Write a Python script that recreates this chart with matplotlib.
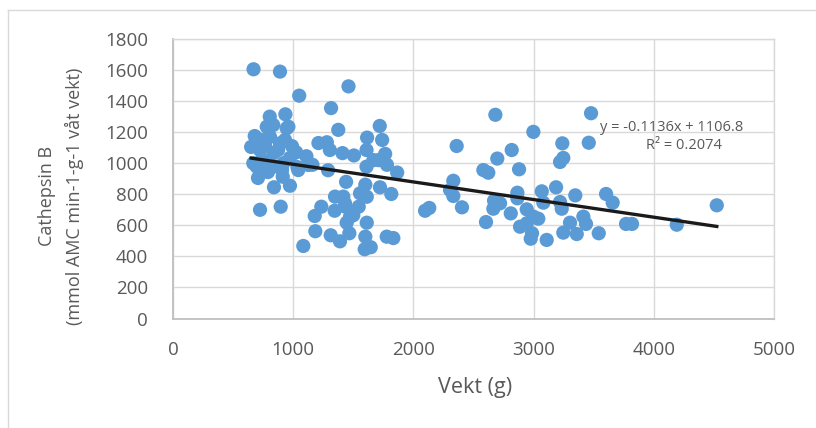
import matplotlib
matplotlib.use("Agg")
import matplotlib.pyplot as plt
from matplotlib.lines import Line2D
import numpy as np

plt.rcParams['font.family'] = ['Open Sans', 'DejaVu Sans']

# Data: weight (g) and Cathepsin B activity
vekt = [670, 890, 1050, 1460, 1315, 805, 935, 805, 960, 1375, 1720, 1615, 1740,
        680, 650, 1210, 1280, 1305, 1025, 1110, 1160, 1035, 1290, 1410, 1505,
        1610, 1765, 1710, 1780, 1610, 1865, 668, 707, 840, 973, 913, 1440, 1600,
        1722, 1816, 724, 896, 1348, 1417, 1556, 1612, 1234, 1179, 1345, 1434,
        1500, 1545, 1445, 1612, 1184, 1312, 1389, 1467, 1600, 1595, 1645, 1778,
        1833, 1084, 780, 946, 807, 890, 724, 834, 696, 834, 918, 740, 1667,
        1473, 1431, 765, 874, 973, 790, 907, 990, 740, 932, 1042, 1126, 834,
        2682, 3478, 2998, 2360, 3239, 3459, 2818, 2698, 3247, 3220, 2582, 2623,
        2879, 2332, 2305, 2332, 2132, 2097, 2404, 2865, 2865, 3068, 3187, 3347,
        3603, 3658, 2671, 2721, 2665, 3081, 3220, 3234, 2810, 2943, 2998, 3039,
        2887, 2943, 2604, 2987, 2976, 3109, 3247, 3303, 3359, 3414, 3436, 3542,
        3769, 3819, 4191, 4524]
cathepsin = [1605, 1590, 1435, 1495, 1355, 1300, 1315, 1235, 1235, 1215, 1240, 1165, 1150,
             1175, 1105, 1130, 1135, 1085, 1070, 1045, 990, 975, 955, 1065, 1050,
             1085, 1060, 1020, 990, 978, 940, 1000, 905, 845, 855, 913, 880, 862,
             845, 802, 700, 720, 785, 785, 806, 784, 720, 660, 694, 720,
             665, 720, 617, 617, 562, 536, 497, 549, 527, 446, 459, 527,
             518, 467, 1235, 1225, 1170, 1128, 1085, 1064, 978, 978, 1000, 1150, 1020,
             656, 742, 1117, 1085, 1034, 943, 956, 1110, 1021, 1150, 956, 989, 1246,
             1312, 1322, 1202, 1111, 1128, 1132, 1085, 1030, 1034, 1008, 956, 939,
             961, 887, 828, 789, 712, 694, 716, 810, 774, 819, 845, 793,
             802, 746, 759, 742, 707, 746, 750, 707, 677, 703, 656, 643,
             591, 613, 621, 549, 514, 506, 553, 617, 544, 656, 609, 549,
             609, 609, 604, 729]

slope = -0.1136
intercept = 1106.8
eq_text = "y = -0.1136x + 1106.8"
r2_text = "R² = 0.2074"
x_ticks = [0, 1000, 2000, 3000, 4000, 5000]
y_ticks = [0, 200, 400, 600, 800, 1000, 1200, 1400, 1600, 1800]

W, H = 816, 428
fig = plt.figure(figsize=(W / 100, H / 100), dpi=100)
fig.patch.set_facecolor('white')

# chart border (visible part)
fig.add_artist(Line2D([8 / W, 1.0], [1 - 10 / H, 1 - 10 / H], color='#D9D9D9', lw=1.0))
fig.add_artist(Line2D([8 / W, 8 / W], [0, 1 - 10 / H], color='#D9D9D9', lw=1.0))

ax = fig.add_axes([173 / W, 1 - 318.5 / H, (774 - 173) / W, (318.5 - 39) / H])
ax.set_xlim(0, 5000)
ax.set_ylim(0, 1800)
ax.set_xticks(x_ticks)
ax.set_yticks(y_ticks)
ax.grid(True, color='#D9D9D9', lw=1.0)
ax.set_axisbelow(True)
for s in ['top', 'right']:
    ax.spines[s].set_color('#D9D9D9')
    ax.spines[s].set_linewidth(1.0)
for s in ['left', 'bottom']:
    ax.spines[s].set_color('#BFBFBF')
    ax.spines[s].set_linewidth(1.3)
ax.tick_params(length=0, labelsize=13.5, labelcolor='#595959')
ax.tick_params(axis='y', pad=18)
ax.tick_params(axis='x', pad=16)

ax.scatter(vekt, cathepsin, s=105, color='#5B9BD5', edgecolors='none', zorder=3)

xs = np.array([min(vekt), max(vekt)])
ax.plot(xs, slope * xs + intercept, color='#1A1A1A', lw=2.4, zorder=4)

ax.text(4152, 1233, eq_text, ha='center', va='center', fontsize=10.5, color='#595959', zorder=5)
ax.text(4252, 1111, r2_text, ha='center', va='center', fontsize=10.5, color='#595959', zorder=5)

fig.text(475 / W, 1 - 388 / H, "Vekt (g)", ha='center', va='center', fontsize=15.5, color='#595959')
fig.text(47 / W, 1 - 196 / H, "Cathepsin B", ha='center', va='center', rotation=90,
         fontsize=13, color='#595959')
fig.text(74 / W, 1 - 196 / H, "(mmol AMC min-1-g-1 våt vekt)", ha='center', va='center',
         rotation=90, fontsize=13, color='#595959')

fig.savefig("out.png", dpi=100, facecolor='white')
